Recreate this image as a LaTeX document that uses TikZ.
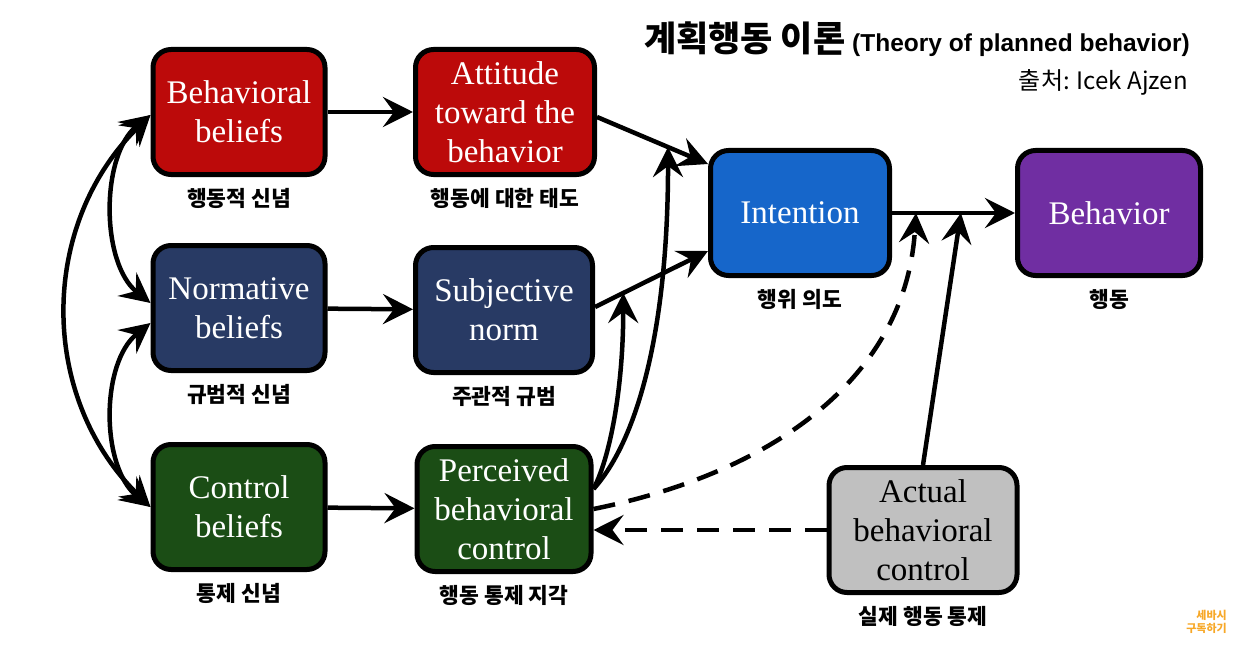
\documentclass[tikz,border=0pt]{standalone}
\usepackage{fontspec}
\setmainfont{Liberation Serif}
\newfontfamily\kr{Noto Sans CJK KR}
\newfontfamily\lsans{Liberation Sans}
\usetikzlibrary{arrows.meta}
\definecolor{bred}{RGB}{188,10,10}
\definecolor{bnavy}{RGB}{40,58,100}
\definecolor{bgreen}{RGB}{27,77,21}
\definecolor{bblue}{RGB}{22,102,202}
\definecolor{bpurple}{RGB}{112,46,162}
\definecolor{bgray}{RGB}{192,192,192}
\definecolor{sbsorange}{RGB}{247,168,40}
\begin{document}
\begin{tikzpicture}[x=1pt,y=-1pt,label distance=8pt,
  box/.style={draw,line width=5pt,rounded corners=18pt,minimum width=172pt,minimum height=125pt,
    align=center,text=white,font=\fontsize{33}{39}\selectfont},
  lab/.style={font=\kr\bfseries\fontsize{21.5}{25}\selectfont},
  arr/.style={line width=4.5pt,-{Stealth[length=30pt,width=30pt,inset=11pt]}},
  dbl/.style={line width=4.5pt,{Stealth[length=30pt,width=30pt,inset=11pt]}-{Stealth[length=30pt,width=30pt,inset=11pt]}},
  dsh/.style={dash pattern=on 22pt off 14pt}]
\useasboundingbox (0,0) rectangle (1258,658);
\node[anchor=base east,inner sep=0pt] (title) at (1190,52)
  {{\kr\bfseries\fontsize{35}{42}\selectfont 계획행동 이론}\hspace{7pt}{\lsans\bfseries\fontsize{24.5}{30}\selectfont (Theory of planned behavior)}};
\node[anchor=base east,inner sep=0pt,font=\kr\fontsize{24}{28}\selectfont] (src) at (1188,90) {출처: Icek Ajzen};
\node[box,fill=bred,label={[lab]below:행동적 신념}] (bb) at (239,112) {Behavioral\\beliefs};
\node[box,fill=bnavy,label={[lab]below:규범적 신념}] (nb) at (239,308) {Normative\\beliefs};
\node[box,fill=bgreen,label={[lab]below:통제 신념}] (cb) at (239,507) {Control\\beliefs};
\node[box,fill=bred,minimum width=179pt,label={[lab]below:행동에 대한 태도}] (att) at (505,112) {Attitude\\toward the\\behavior};
\node[box,fill=bnavy,minimum width=177pt,label={[lab]below:주관적 규범}] (sn) at (504,310) {Subjective\\norm};
\node[box,fill=bgreen,minimum width=174pt,label={[lab]below:행동 통제 지각}] (pbc) at (504,509) {Perceived\\behavioral\\control};
\node[box,fill=bblue,minimum width=179pt,label={[lab]below:행위 의도}] (int) at (800,213) {Intention};
\node[box,fill=bpurple,minimum width=183pt,label={[lab]below:행동}] (beh) at (1109,213) {Behavior};
\node[box,fill=bgray,text=black,minimum width=188pt,label={[lab]below:실제 행동 통제}] (act) at (923,530) {Actual\\behavioral\\control};
\node[anchor=north east,align=right,inner sep=0pt,text=sbsorange,font=\kr\bfseries\fontsize{11}{13}\selectfont] (sub) at (1227,610) {세바시\\구독하기};
\draw[dbl] ([yshift=-3pt]bb.west) .. controls +(-112,110) and +(-112,-110) .. (cb.west);
\draw[dbl] ([yshift=-3pt]bb.west) .. controls +(-50,40) and +(-50,-40) .. ([yshift=5pt]nb.west);
\draw[dbl] ([yshift=-15pt]nb.west) .. controls +(-50,40) and +(-50,-40) .. (cb.west);
\draw[arr] (bb) -- (att);
\draw[arr] (nb) -- (sn);
\draw[arr] (cb) -- (pbc);
\draw[arr] ([yshift=-5pt]att.east) -- coordinate[pos=0.64] (ai) ([yshift=49pt]int.west);
\draw[arr] ([yshift=3pt]sn.east) -- coordinate[pos=0.25] (si) ([yshift=-38pt]int.west);
\draw[arr] (int) -- coordinate[pos=0.195] (ib1) coordinate[pos=0.56] (ib2) (beh);
\draw[arr] ([yshift=20pt]pbc.east) .. controls +(18,-35) and +(0,90) .. (si);
\draw[arr] ([yshift=20pt]pbc.east) .. controls +(45,-50) and +(0,180) .. (ai);
\draw[arr,dsh] (pbc.east) .. controls +(187,-38) and +(-10,160) .. (ib1);
\draw[arr,dsh] (act.west) -- (act.west -| pbc.east);
\draw[arr] (act.north) -- (ib2);
\end{tikzpicture}
\end{document}
